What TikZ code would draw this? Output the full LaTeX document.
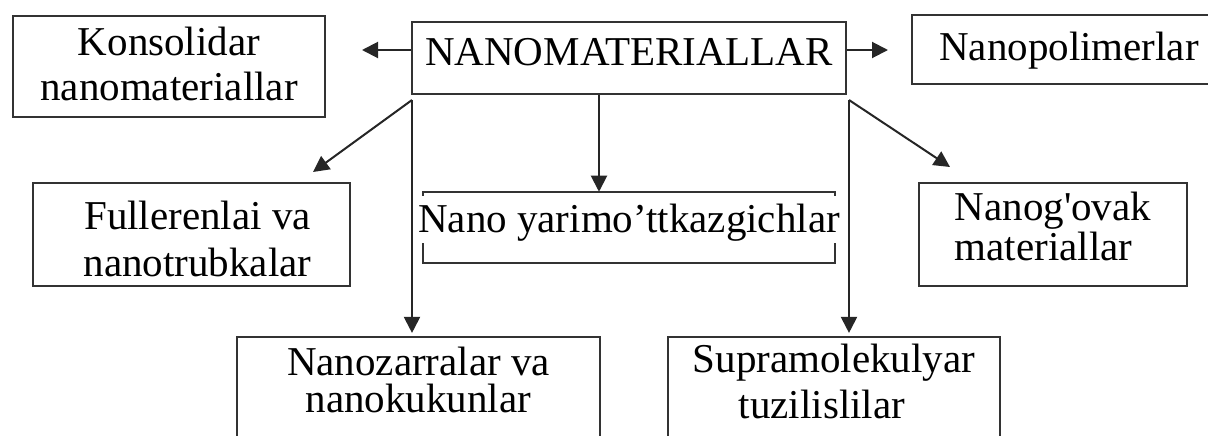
\documentclass[tikz,border=0pt]{standalone}
\usepackage{fontspec}
\newfontfamily\lserif{Liberation Serif}
\usetikzlibrary{arrows.meta}
\newlength\pxu
\setlength\pxu{0.75pt}
\tikzset{
  box/.style={draw=black!80, line width=1.6pt, inner sep=0pt, align=center, text=black},
  fs/.style={font=\lserif\fontsize{30.75pt}{#1}\selectfont},
  fs/.default=33.75pt,
  arr/.style={draw=black!85, line width=1.5pt, -{Triangle[length=12pt,width=12pt]}},
  brk/.style={draw=black!80, line width=1.6pt},
}
\begin{document}
\begin{tikzpicture}[x=0.75pt, y=-0.75pt]
  \useasboundingbox (0,0) rectangle (1208,436);
  \clip (0,0) rectangle (1208,436);

  % top row
  \node[box, fs=33.75pt, minimum width=312\pxu, minimum height=101\pxu,
        text height=72\pxu, text depth=5\pxu] (kons) at (169,66.5)
        {Konsolidar\\nanomateriallar};
  \node[box, fs, minimum width=434\pxu, minimum height=72\pxu,
        text height=30\pxu, text depth=16\pxu] (nano) at (629,58)
        {NANOMATERIALLAR};
  \node[box, fs, minimum width=314\pxu, minimum height=69\pxu,
        text height=30\pxu, text depth=9\pxu] (poly) at (1069,49.5)
        {Nanopolimerlar};

  % middle row
  \node[box, fs=35.25pt, minimum width=317\pxu, minimum height=103\pxu,
        text height=88\pxu, text depth=5\pxu] (full) at (191.5,234.5)
        {\hspace*{12\pxu}Fullerenlai va\\\hspace*{12\pxu}nanotrubkalar};
  \node[fs, inner sep=0pt, minimum width=412\pxu, minimum height=71\pxu,
        text height=30\pxu, text depth=21\pxu] (nyar) at (629,227.5)
        {\makebox[412\pxu]{Nano yarimo’ttkazgichlar}};
  \node[box, fs=30pt, align=left, minimum width=268\pxu, minimum height=103\pxu,
        text height=56\pxu, text depth=5\pxu] (ovak) at (1053,234.5)
        {Nanog'ovak\\materiallar};

  % bottom row
  \node[box, fs=27.75pt, minimum width=363\pxu, minimum height=108\pxu,
        text height=47\pxu, text depth=5\pxu] (zarr) at (418.5,391)
        {Nanozarralar va\\nanokukunlar};
  \node[box, fs=34.5pt, minimum width=332\pxu, minimum height=108\pxu,
        text height=59\pxu, text depth=5\pxu] (supra) at (834,391)
        {Supramolekulyar\\tuzilislilar\hspace*{24\pxu}};

  % bracket around the middle label
  \draw[brk] ([yshift=-4\pxu]nyar.north west) -- (nyar.north west)
        -- (nyar.north east) -- ([yshift=-4\pxu]nyar.north east);
  \draw[brk] ([yshift=20\pxu]nyar.south west) -- (nyar.south west)
        -- (nyar.south east) -- ([yshift=20\pxu]nyar.south east);

  % arrow ends and fork points
  \coordinate (tK) at (362,50);
  \coordinate (tP) at (888,50);
  \coordinate (cY) at (599,0);
  \coordinate (sL) at (412,100);
  \coordinate (sR) at (849,100);
  \coordinate (tF) at (313,172);
  \coordinate (tO) at (950,167);

  \draw[arr] (nano.west |- tK) -- (tK);
  \draw[arr] (nano.east |- tP) -- (tP);
  \draw[arr] (nano.south -| cY) -- (nyar.north -| cY);
  \draw[arr] (sL) -- (tF);
  \draw[arr, shorten >=3\pxu] (sL) -- (sL |- zarr.north);
  \draw[arr] (sR) -- (tO);
  \draw[arr, shorten >=3\pxu] (sR) -- (sR |- supra.north);
\end{tikzpicture}
\end{document}
